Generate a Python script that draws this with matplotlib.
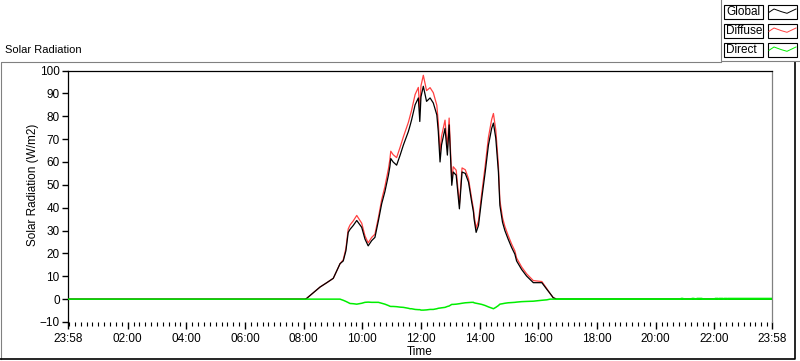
import matplotlib.pyplot as plt
from matplotlib.patches import Rectangle

plt.rcParams["font.family"] = ["Liberation Sans", "DejaVu Sans"]
plt.rcParams["font.size"] = 8.5

# time in hours since midnight; the chart starts at 23:58 of the previous day
hours = [-0.033, 8.05, 8.10, 8.33, 8.56, 8.79, 9.01, 9.18, 9.24, 9.35, 9.44, 9.52,
         9.58, 9.69, 9.81, 9.98, 10.09, 10.20, 10.32, 10.43, 10.55, 10.66, 10.77,
         10.89, 10.94, 10.97, 11.05, 11.17, 11.29, 11.40, 11.57, 11.63, 11.68,
         11.80, 11.91, 11.96, 12.00, 12.08, 12.19, 12.31, 12.42, 12.54, 12.59,
         12.65, 12.70, 12.82, 12.90, 12.96, 13.05, 13.10, 13.20, 13.31, 13.40,
         13.51, 13.62, 13.73, 13.79, 13.81, 13.88, 13.96, 14.07, 14.19, 14.30,
         14.41, 14.47, 14.55, 14.64, 14.69, 14.78, 14.86, 14.97, 15.09, 15.20,
         15.26, 15.43, 15.60, 15.83, 16.12, 16.29, 16.40, 16.51, 16.63, 23.967]

global_rad = [0, 0, 0.3, 2.8, 5.3, 7.2, 9.1, 13.8, 15.5, 16.7, 21.1, 29.2,
              30.5, 32.2, 34.4, 31.4, 26.3, 23.3, 25.6, 27.0, 34.4, 41.7, 47.0,
              54.2, 58.0, 61.5, 60.0, 58.6, 63.0, 67.4, 73.3, 76.0, 78.4,
              85.0, 88.0, 77.7, 88.5, 93.1, 86.5, 88.0, 85.8, 80.6, 73.3,
              60.0, 67.4, 74.7, 63.0, 76.2, 49.8, 55.6, 54.2, 39.5, 55.6,
              55.0, 51.2, 42.4, 38.0, 35.1, 29.2, 32.2, 43.9, 55.6, 67.4,
              74.7, 77.0, 70.4, 55.6, 41.0, 33.6, 30.0, 26.3, 22.6, 19.7,
              16.7, 13.0, 10.1, 7.2, 7.2, 4.3, 2.5, 0.6, 0, 0]

diffuse_rad = [0, 0, 0.3, 2.8, 5.3, 7.2, 9.1, 13.8, 15.5, 17.2, 22.1, 30.7,
               32.4, 34.2, 36.6, 33.2, 27.7, 24.6, 27.0, 28.4, 35.8, 43.5, 49.2,
               57.0, 61.1, 64.7, 63.2, 61.9, 66.5, 71.0, 77.3, 80.2, 82.6,
               89.5, 92.6, 82.3, 93.3, 97.9, 91.2, 92.5, 90.3, 84.8, 77.3,
               63.9, 71.2, 78.3, 66.2, 79.2, 52.1, 57.9, 56.4, 41.5, 57.4,
               56.6, 52.7, 43.8, 39.4, 36.7, 31.0, 34.2, 46.2, 58.4, 70.8,
               78.6, 81.2, 74.0, 58.4, 43.2, 35.6, 31.8, 27.9, 24.1, 21.1,
               18.0, 14.1, 11.1, 8.1, 7.7, 4.6, 2.5, 0.6, 0, 0]

direct_rad = [0, 0, 0, 0, 0, 0, 0, 0, 0, -0.5, -1.0, -1.5,
              -1.9, -2.0, -2.2, -1.8, -1.4, -1.3, -1.4, -1.4, -1.4, -1.8, -2.2,
              -2.8, -3.1, -3.2, -3.2, -3.3, -3.5, -3.6, -4.0, -4.2, -4.2,
              -4.5, -4.6, -4.6, -4.8, -4.8, -4.7, -4.5, -4.5, -4.2, -4.0,
              -3.9, -3.8, -3.6, -3.2, -3.0, -2.3, -2.3, -2.2, -2.0, -1.8,
              -1.6, -1.5, -1.4, -1.4, -1.6, -1.8, -2.0, -2.3, -2.8, -3.4,
              -3.9, -4.2, -3.6, -2.8, -2.2, -2.0, -1.8, -1.6, -1.5, -1.4,
              -1.3, -1.1, -1.0, -0.9, -0.5, -0.3, 0, 0, 0, 0]

# small positive blips of the direct series late in the evening
blip_hours = [16.63, 20.86, 20.87, 20.93, 20.94, 21.23, 21.24, 21.31, 21.32,
              21.40, 21.41, 21.58, 21.59, 22.02, 22.03, 22.13, 22.14, 22.16,
              22.17, 22.30, 22.31, 22.33, 22.34, 22.44, 22.45, 22.47, 23.967]
blip_vals = [0, 0, 0.3, 0.3, 0, 0, 0.3, 0.3, 0,
             0, 0.3, 0.3, 0, 0, 0.3, 0.3, 0, 0,
             0.3, 0.3, 0, 0, 0.3, 0.3, 0, 0.3, 0.3]

tick_hours = [-2 / 60, 2, 4, 6, 8, 10, 12, 14, 16, 18, 20, 22, 24 - 2 / 60]
tick_labels = ["23:58", "02:00", "04:00", "06:00", "08:00", "10:00", "12:00",
               "14:00", "16:00", "18:00", "20:00", "22:00", "23:58"]
minor_hours = [m / 5 for m in range(0, 120)]
y_ticks = list(range(-10, 101, 10))

W, H = 800, 361
fig = plt.figure(figsize=(W / 100, H / 100), dpi=100)

ax = fig.add_axes([68 / W, 1 - 322 / H, 704 / W, (322 - 70.5) / H])
ax.plot(hours, global_rad, color="black", lw=0.9, zorder=3)
ax.plot(hours, diffuse_rad, color="#ff4040", lw=0.9, zorder=2)
ax.plot(hours, direct_rad, color="#00ee00", lw=1.1, zorder=4)
ax.plot(blip_hours, blip_vals, color="#00ee00", lw=1.1, zorder=4)

ax.set_xlim(tick_hours[0], tick_hours[-1])
ax.set_ylim(-10, 100)
ax.set_xticks(tick_hours)
ax.set_xticklabels(tick_labels)
ax.set_xticks(minor_hours, minor=True)
ax.set_yticks(y_ticks)
ax.tick_params(axis="x", which="major", direction="out", length=5, width=1, pad=3)
ax.tick_params(axis="x", which="minor", direction="out", length=3, width=0.8)
ax.tick_params(axis="y", direction="out", length=4, width=1, pad=2)
ax.spines["bottom"].set_visible(False)
ax.spines["right"].set_color("#808080")
for s in ["left", "top", "right"]:
    ax.spines[s].set_linewidth(0.9)

fig.text(420 / W, 1 - 352 / H, "Time", ha="center", va="center")
fig.text(33 / W, 1 - 185 / H, "Solar Radiation (W/m2)", rotation=90,
         ha="center", va="center")
fig.text(5 / W, 1 - 50 / H, "Solar Radiation", ha="left", va="center", fontsize=8)

# panel frame and legend in pixel coordinates
ov = fig.add_axes([0, 0, 1, 1], facecolor="none")
ov.set_xlim(0, W)
ov.set_ylim(H, 0)
ov.axis("off")
ov.plot([1, 1, 721], [359, 62, 62], color="#808080", lw=0.8)
ov.plot([0, 795, 795], [359, 359, 62], color="black", lw=1.2)
ov.plot([721, 721, 800], [0, 60.5, 60.5], color="#808080", lw=0.8)

names = ["Global", "Diffuse", "Direct"]
colors = ["black", "#ff4040", "#00ee00"]
zig_x = [769, 774, 781.5, 787, 796]
zig_y = [12.3, 9, 11.7, 13.3, 9]
for i, (name, c) in enumerate(zip(names, colors)):
    dy = i * 19
    ov.add_patch(Rectangle((724, 4.5 + dy), 39, 14.5, fill=False, ec="black", lw=0.8))
    ov.add_patch(Rectangle((767.5, 4.5 + dy), 29.5, 14.5, fill=False, ec="black", lw=0.8))
    ov.text(726, 12 + dy, name, ha="left", va="center", fontsize=8.5)
    ov.plot(zig_x, [y + dy for y in zig_y], color=c, lw=0.7)

fig.savefig("out.png", dpi=100)
